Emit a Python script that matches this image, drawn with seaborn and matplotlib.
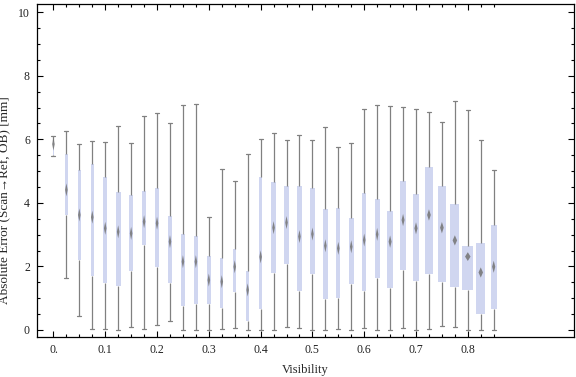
import numpy as np
import pandas as pd
import matplotlib
matplotlib.use('Agg')
import matplotlib.pyplot as plt
import seaborn as sns
from matplotlib.path import Path
from matplotlib.ticker import FixedLocator, FixedFormatter

# ---- data ----
visibility = [0.000, 0.025, 0.050, 0.075, 0.100, 0.125, 0.150, 0.175, 0.200, 0.225,
              0.250, 0.275, 0.300, 0.325, 0.350, 0.375, 0.400, 0.425, 0.450, 0.475,
              0.500, 0.525, 0.550, 0.575, 0.600, 0.625, 0.650, 0.675, 0.700, 0.725,
              0.750, 0.775, 0.800, 0.825, 0.850]
err_min = [5.47, 1.63, 0.43, 0.02, 0.02, 0.00, 0.10, 0.02, 0.15, 0.28,
           0.00, 0.00, 0.00, 0.02, 0.05, 0.00, 0.00, 0.00, 0.08, 0.05,
           0.00, 0.00, 0.02, 0.00, 0.05, 0.00, 0.00, 0.05, 0.00, 0.03,
           0.12, 0.09, 0.00, 0.00, 0.00]
err_q1 = [5.50, 3.62, 2.19, 1.71, 1.47, 1.39, 1.86, 2.67, 1.99, 1.49,
          0.77, 0.83, 0.83, 0.70, 1.21, 0.29, 0.67, 1.80, 2.09, 1.23,
          1.77, 0.98, 1.02, 1.46, 1.23, 1.65, 1.32, 1.90, 1.55, 1.77,
          1.52, 1.36, 1.27, 0.51, 0.67]
err_median = [5.85, 4.41, 3.62, 3.55, 3.20, 3.09, 3.04, 3.41, 3.36, 2.78,
              2.15, 2.15, 1.57, 1.52, 1.99, 1.26, 2.30, 3.22, 3.38, 2.94,
              3.02, 2.65, 2.57, 2.62, 2.83, 3.01, 2.78, 3.46, 3.20, 3.62,
              3.22, 2.82, 2.31, 1.81, 1.99]
err_q3 = [5.95, 5.54, 5.02, 5.22, 4.80, 4.33, 4.24, 4.36, 4.47, 3.59,
          3.02, 2.96, 2.33, 2.27, 2.54, 1.85, 4.80, 4.66, 4.52, 4.53,
          4.47, 3.81, 3.85, 3.52, 4.31, 4.12, 3.74, 4.69, 4.28, 5.13,
          4.53, 3.96, 2.64, 2.74, 3.30]
err_max = [6.10, 6.26, 5.84, 5.94, 5.93, 6.41, 5.87, 6.73, 6.82, 6.50,
           7.08, 7.11, 3.55, 5.06, 4.69, 5.53, 6.00, 6.19, 5.97, 6.13,
           5.97, 6.38, 5.75, 5.87, 6.97, 7.08, 7.05, 7.02, 6.94, 6.85,
           6.53, 7.22, 6.91, 5.97, 5.02]

# box widths as drawn (pixels)
box_width_px = [1.0, 3.3, 3.3, 3.3, 4.0, 5.0, 4.3, 4.3, 4.0, 4.7,
                4.0, 4.0, 4.0, 3.3, 3.0, 3.0, 3.3, 5.0, 5.0, 5.0,
                5.0, 5.0, 4.3, 5.0, 4.0, 5.0, 6.0, 6.0, 6.3, 7.3,
                7.3, 9.0, 11.0, 9.0, 6.3]

x_major = [0.0, 0.1, 0.2, 0.3, 0.4, 0.5, 0.6, 0.7, 0.8]
x_labels = ["0.", "0.1", "0.2", "0.3", "0.4", "0.5", "0.6", "0.7", "0.8"]
y_major = [0, 2, 4, 6, 8, 10]

BOX = "#cbd3f5"
WHISK = "#808080"
MED = "#737373"

sns.set_style("ticks")
plt.rcParams['font.family'] = ['Liberation Serif', 'DejaVu Serif']

fig = plt.figure(figsize=(5.76, 3.77), dpi=100)
ax = fig.add_axes([0.064, 0.107, 0.9325, 0.8816])
XLIM = (-0.032, 1.005)
YLIM = (-0.21, 10.25)
px_per_unit = 0.9325 * 576 / (XLIM[1] - XLIM[0])
cap_w = 4.0 / px_per_unit

for i, v in enumerate(visibility):
    df = pd.DataFrame({
        "vis": [v] * 5,
        "err": [err_min[i], err_q1[i], err_median[i], err_q3[i], err_max[i]],
    })
    sns.boxplot(data=df, x="vis", y="err", native_scale=True, orient="x",
                whis=(0, 100), width=box_width_px[i] / px_per_unit,
                color=BOX, linecolor=WHISK, linewidth=0.9, showfliers=False,
                capwidths=cap_w,
                boxprops=dict(edgecolor="none", linewidth=0),
                medianprops=dict(linewidth=0),
                ax=ax)

    # median marker: diamond, slimmer on narrow boxes
    w = box_width_px[i]
    h_px = 13.0 if w <= 5 else 13.0 - (w - 5) * 0.7
    full_w = max(2.6, 0.5 * w)
    half = full_w / h_px
    diamond = Path([(0, 1), (half, 0), (0, -1), (-half, 0), (0, 1)],
                   [Path.MOVETO, Path.LINETO, Path.LINETO, Path.LINETO, Path.CLOSEPOLY])
    size_pt = h_px * 72 / 100
    sns.scatterplot(x=[v], y=[err_median[i]], marker=diamond, s=size_pt ** 2,
                    color=MED, edgecolor="none", alpha=0.85,
                    zorder=4, legend=False, ax=ax)

ax.set_xlim(*XLIM)
ax.set_ylim(*YLIM)
ax.xaxis.set_major_locator(FixedLocator(x_major))
ax.xaxis.set_major_formatter(FixedFormatter(x_labels))
ax.xaxis.set_minor_locator(FixedLocator(visibility))
ax.yaxis.set_major_locator(FixedLocator(y_major))
ax.yaxis.set_minor_locator(FixedLocator([k * 0.5 for k in range(21)]))
ax.tick_params(which="both", direction="in", top=True, right=True,
               color="black", width=0.8)
ax.tick_params(which="major", length=4, labelsize=8.5, labelcolor="#222222", pad=5)
ax.tick_params(which="minor", length=2.2)
ax.tick_params(axis="x", labeltop=False)
ax.tick_params(axis="y", labelright=False)
for s in ax.spines.values():
    s.set_visible(True)
    s.set_color("black")
    s.set_linewidth(0.9)

ax.set_xlabel("Visibility", fontsize=9, labelpad=6)
ax.set_ylabel("Absolute Error (Scan\u2192Ref, OB) [mm]", fontsize=9.5)
ax.yaxis.set_label_coords(-0.049, 0.41)

fig.savefig("out.png", dpi=100)
